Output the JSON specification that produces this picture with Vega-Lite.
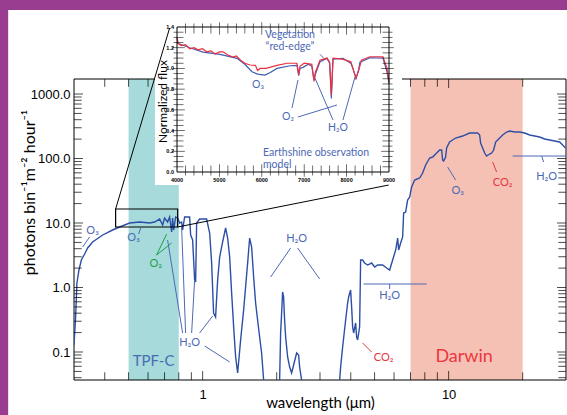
{
  "$schema": "https://vega.github.io/schema/vega-lite/v6.json",
  "width": 492,
  "height": 301,
  "autosize": {"type": "none"},
  "padding": {"left": 74, "top": 79, "right": 1, "bottom": 35},
  "background": "white",
  "config": {
    "view": {"stroke": null},
    "axis": {"grid": false, "domain": false, "ticks": false, "labelColor": "black", "titleColor": "black", "zindex": 1, "labelOverlap": false}
  },
  "datasets": {
    "border": [
      {"w1": 0.01, "w2": 0.162, "f1": 0.00001, "f2": 100000000},
      {"w1": 0.01, "w2": 1000, "f1": 20050, "f2": 100000000}
    ],
    "bands": [
      {"mission": "TPF-C", "start": 0.5, "end": 0.8},
      {"mission": "Darwin", "start": 7, "end": 20}
    ],
    "bandLabels": [
      {"mission": "TPF-C", "wavelength": 0.632, "flux": 0.0725},
      {"mission": "Darwin", "wavelength": 11.56, "flux": 0.0837}
    ],
    "frame": [{"w1": 0.3, "w2": 30, "f1": 0.0368, "f2": 1710}],
    "xTicks": [
      {"wavelength": 0.4, "kind": "minor"}, {"wavelength": 0.5, "kind": "minor"}, {"wavelength": 0.6, "kind": "minor"},
      {"wavelength": 0.7, "kind": "minor"}, {"wavelength": 0.8, "kind": "minor"}, {"wavelength": 0.9, "kind": "minor"},
      {"wavelength": 1, "kind": "major"}, {"wavelength": 2, "kind": "minor"}, {"wavelength": 3, "kind": "minor"},
      {"wavelength": 4, "kind": "minor"}, {"wavelength": 5, "kind": "minor"}, {"wavelength": 6, "kind": "minor"},
      {"wavelength": 7, "kind": "minor"}, {"wavelength": 8, "kind": "minor"}, {"wavelength": 9, "kind": "minor"},
      {"wavelength": 10, "kind": "major"}, {"wavelength": 20, "kind": "minor"}
    ],
    "yTicks": [
      {"flux": 0.04, "kind": "minor"}, {"flux": 0.05, "kind": "minor"}, {"flux": 0.06, "kind": "minor"}, {"flux": 0.07, "kind": "minor"},
      {"flux": 0.08, "kind": "minor"}, {"flux": 0.09, "kind": "minor"}, {"flux": 0.1, "kind": "major"},
      {"flux": 0.2, "kind": "minor"}, {"flux": 0.3, "kind": "minor"}, {"flux": 0.4, "kind": "minor"}, {"flux": 0.5, "kind": "minor"},
      {"flux": 0.6, "kind": "minor"}, {"flux": 0.7, "kind": "minor"}, {"flux": 0.8, "kind": "minor"}, {"flux": 0.9, "kind": "minor"},
      {"flux": 1, "kind": "major"},
      {"flux": 2, "kind": "minor"}, {"flux": 3, "kind": "minor"}, {"flux": 4, "kind": "minor"}, {"flux": 5, "kind": "minor"},
      {"flux": 6, "kind": "minor"}, {"flux": 7, "kind": "minor"}, {"flux": 8, "kind": "minor"}, {"flux": 9, "kind": "minor"},
      {"flux": 10, "kind": "major"},
      {"flux": 20, "kind": "minor"}, {"flux": 30, "kind": "minor"}, {"flux": 40, "kind": "minor"}, {"flux": 50, "kind": "minor"},
      {"flux": 60, "kind": "minor"}, {"flux": 70, "kind": "minor"}, {"flux": 80, "kind": "minor"}, {"flux": 90, "kind": "minor"},
      {"flux": 100, "kind": "major"},
      {"flux": 200, "kind": "minor"}, {"flux": 300, "kind": "minor"}, {"flux": 400, "kind": "minor"}, {"flux": 500, "kind": "minor"},
      {"flux": 600, "kind": "minor"}, {"flux": 700, "kind": "minor"}, {"flux": 800, "kind": "minor"}, {"flux": 900, "kind": "minor"},
      {"flux": 1000, "kind": "major"}
    ],
    "spectrum": [
      {"wavelength": 0.3, "flux": 0.128}, {"wavelength": 0.3046, "flux": 0.349}, {"wavelength": 0.3083, "flux": 1.174},
      {"wavelength": 0.3142, "flux": 1.867}, {"wavelength": 0.3213, "flux": 2.669}, {"wavelength": 0.3314, "flux": 3.307},
      {"wavelength": 0.3408, "flux": 4.1}, {"wavelength": 0.3571, "flux": 5.08}, {"wavelength": 0.3923, "flux": 6.52},
      {"wavelength": 0.4306, "flux": 7.79}, {"wavelength": 0.46, "flux": 8.67}, {"wavelength": 0.505, "flux": 10.0},
      {"wavelength": 0.5546, "flux": 10.36}, {"wavelength": 0.609, "flux": 10.0}, {"wavelength": 0.6378, "flux": 10.36},
      {"wavelength": 0.6686, "flux": 11.53}, {"wavelength": 0.6877, "flux": 9.31}, {"wavelength": 0.7006, "flux": 11.95},
      {"wavelength": 0.7205, "flux": 10.36}, {"wavelength": 0.7342, "flux": 12.39}, {"wavelength": 0.7482, "flux": 7.25},
      {"wavelength": 0.7551, "flux": 11.95}, {"wavelength": 0.7623, "flux": 7.79}, {"wavelength": 0.7767, "flux": 12.39},
      {"wavelength": 0.7915, "flux": 11.95}, {"wavelength": 0.8065, "flux": 10.0}, {"wavelength": 0.8215, "flux": 10.36},
      {"wavelength": 0.8292, "flux": 7.79}, {"wavelength": 0.8449, "flux": 12.39}, {"wavelength": 0.8855, "flux": 12.39},
      {"wavelength": 0.8938, "flux": 6.52}, {"wavelength": 0.9106, "flux": 5.45}, {"wavelength": 0.9279, "flux": 1.307},
      {"wavelength": 0.9365, "flux": 1.217}, {"wavelength": 0.9454, "flux": 10.0}, {"wavelength": 0.9723, "flux": 11.53},
      {"wavelength": 1.038, "flux": 11.53}, {"wavelength": 1.068, "flux": 7.0}, {"wavelength": 1.088, "flux": 2.398},
      {"wavelength": 1.108, "flux": 0.4024}, {"wavelength": 1.129, "flux": 0.3488}, {"wavelength": 1.151, "flux": 1.307},
      {"wavelength": 1.173, "flux": 2.97}, {"wavelength": 1.206, "flux": 5.08}, {"wavelength": 1.24, "flux": 8.37},
      {"wavelength": 1.264, "flux": 5.85}, {"wavelength": 1.288, "flux": 2.97}, {"wavelength": 1.312, "flux": 0.822},
      {"wavelength": 1.337, "flux": 0.2441}, {"wavelength": 1.362, "flux": 0.0837}, {"wavelength": 1.388, "flux": 0.0472},
      {"wavelength": 1.427, "flux": 0.1535}, {"wavelength": 1.468, "flux": 0.4478}, {"wavelength": 1.495, "flux": 1.018},
      {"wavelength": 1.524, "flux": 2.398}, {"wavelength": 1.553, "flux": 5.85}, {"wavelength": 1.582, "flux": 4.25},
      {"wavelength": 1.612, "flux": 1.455}, {"wavelength": 1.642, "flux": 0.575}, {"wavelength": 1.673, "flux": 0.3133},
      {"wavelength": 1.705, "flux": 0.1709}, {"wavelength": 1.737, "flux": 0.0965}, {"wavelength": 1.77, "flux": 0.0368},
      {"wavelength": 1.803, "flux": 0.01}, {"wavelength": 2.02, "flux": 0.01}, {"wavelength": 2.056, "flux": 0.0368},
      {"wavelength": 2.075, "flux": 0.197}, {"wavelength": 2.095, "flux": 0.4024}, {"wavelength": 2.114, "flux": 0.852},
      {"wavelength": 2.134, "flux": 0.7125}, {"wavelength": 2.154, "flux": 0.3133}, {"wavelength": 2.175, "flux": 0.1709},
      {"wavelength": 2.216, "flux": 0.0837}, {"wavelength": 2.258, "flux": 0.0585}, {"wavelength": 2.3, "flux": 0.0472},
      {"wavelength": 2.344, "flux": 0.0629}, {"wavelength": 2.411, "flux": 0.0965}, {"wavelength": 2.456, "flux": 0.0898},
      {"wavelength": 2.479, "flux": 0.0585}, {"wavelength": 2.526, "flux": 0.0368}, {"wavelength": 2.574, "flux": 0.01},
      {"wavelength": 3.539, "flux": 0.01}, {"wavelength": 3.606, "flux": 0.0368}, {"wavelength": 3.639, "flux": 0.0585},
      {"wavelength": 3.708, "flux": 0.1196}, {"wavelength": 3.814, "flux": 0.3133}, {"wavelength": 3.886, "flux": 0.575},
      {"wavelength": 3.922, "flux": 0.7125}, {"wavelength": 3.996, "flux": 0.9147}, {"wavelength": 4.034, "flux": 0.4984},
      {"wavelength": 4.072, "flux": 0.2441}, {"wavelength": 4.11, "flux": 0.197}, {"wavelength": 4.188, "flux": 0.2815},
      {"wavelength": 4.227, "flux": 0.1709}, {"wavelength": 4.267, "flux": 0.1535}, {"wavelength": 4.347, "flux": 0.2441},
      {"wavelength": 4.388, "flux": 2.669}, {"wavelength": 4.471, "flux": 2.669}, {"wavelength": 4.555, "flux": 2.398},
      {"wavelength": 4.685, "flux": 2.233}, {"wavelength": 4.864, "flux": 2.398}, {"wavelength": 5.003, "flux": 2.078},
      {"wavelength": 5.145, "flux": 2.233}, {"wavelength": 5.392, "flux": 2.233}, {"wavelength": 5.598, "flux": 2.006},
      {"wavelength": 5.757, "flux": 1.867}, {"wavelength": 5.922, "flux": 2.669}, {"wavelength": 6.091, "flux": 3.815},
      {"wavelength": 6.206, "flux": 5.85}, {"wavelength": 6.264, "flux": 3.815}, {"wavelength": 6.382, "flux": 4.897},
      {"wavelength": 6.502, "flux": 6.07}, {"wavelength": 6.564, "flux": 14.29}, {"wavelength": 6.687, "flux": 14.81},
      {"wavelength": 6.813, "flux": 22.73}, {"wavelength": 6.942, "flux": 25.3}, {"wavelength": 7.073, "flux": 36.15},
      {"wavelength": 7.274, "flux": 46.42}, {"wavelength": 7.624, "flux": 49.86}, {"wavelength": 7.841, "flux": 59.61},
      {"wavelength": 8.064, "flux": 79.29}, {"wavelength": 8.373, "flux": 101.8}, {"wavelength": 8.61, "flux": 105.5},
      {"wavelength": 8.94, "flux": 121.7}, {"wavelength": 9.193, "flux": 135.5}, {"wavelength": 9.366, "flux": 135.5},
      {"wavelength": 9.454, "flux": 94.8}, {"wavelength": 9.543, "flux": 91.5}, {"wavelength": 9.723, "flux": 105.5},
      {"wavelength": 9.815, "flux": 145.5}, {"wavelength": 10.09, "flux": 180.3}, {"wavelength": 10.68, "flux": 207.9},
      {"wavelength": 11.4, "flux": 223.3}, {"wavelength": 12.17, "flux": 248.6}, {"wavelength": 13.12, "flux": 248.6},
      {"wavelength": 13.37, "flux": 231.4}, {"wavelength": 13.49, "flux": 173.9}, {"wavelength": 13.75, "flux": 145.5},
      {"wavelength": 14.01, "flux": 121.7}, {"wavelength": 14.27, "flux": 109.3}, {"wavelength": 14.68, "flux": 117.4},
      {"wavelength": 14.96, "flux": 121.7}, {"wavelength": 15.24, "flux": 135.5}, {"wavelength": 15.53, "flux": 180.3},
      {"wavelength": 16.12, "flux": 207.9}, {"wavelength": 16.58, "flux": 231.4}, {"wavelength": 17.21, "flux": 257.6},
      {"wavelength": 17.7, "flux": 267.0}, {"wavelength": 18.55, "flux": 257.6}, {"wavelength": 19.44, "flux": 257.6},
      {"wavelength": 20.37, "flux": 248.6}, {"wavelength": 21.35, "flux": 231.4}, {"wavelength": 22.37, "flux": 223.3},
      {"wavelength": 23.44, "flux": 215.4}, {"wavelength": 24.56, "flux": 200.6}, {"wavelength": 25.74, "flux": 193.6},
      {"wavelength": 26.97, "flux": 186.8}, {"wavelength": 28.26, "flux": 180.3}, {"wavelength": 29.07, "flux": 161.9},
      {"wavelength": 29.9, "flux": 145.5}
    ],
    "pointers": [
      {"species": "H2O", "w1": 0.7205, "f1": 5.45, "w2": 0.8292, "f2": 0.197},
      {"species": "H2O", "w1": 0.8215, "f1": 8.67, "w2": 0.8527, "f2": 0.197},
      {"species": "H2O", "w1": 0.9279, "f1": 1.307, "w2": 0.9022, "f2": 0.197},
      {"species": "H2O", "w1": 1.098, "f1": 0.3614, "w2": 0.9723, "f2": 0.197},
      {"species": "H2O", "w1": 1.288, "f1": 0.07, "w2": 1.019, "f2": 0.1239},
      {"species": "O3", "w1": 0.3252, "f1": 4.246, "w2": 0.3472, "f2": 6.066},
      {"species": "O3", "w1": 0.56, "f1": 8.37, "w2": 0.5494, "f2": 6.75},
      {"species": "O2", "w1": 0.65, "f1": 3.19, "w2": 0.714, "f2": 6.75},
      {"species": "O2", "w1": 0.65, "f1": 3.19, "w2": 0.7482, "f2": 4.9},
      {"species": "H2O", "w1": 1.89, "f1": 1.455, "w2": 2.279, "f2": 4.1},
      {"species": "H2O", "w1": 2.433, "f1": 4.1, "w2": 2.99, "f2": 1.354},
      {"species": "H2O", "w1": 4.512, "f1": 1.133, "w2": 8.14, "f2": 1.133},
      {"species": "H2O", "w1": 5.757, "f1": 1.133, "w2": 5.757, "f2": 0.948},
      {"species": "CO2", "w1": 4.471, "f1": 0.1379, "w2": 4.864, "f2": 0.1},
      {"species": "O3", "w1": 9.91, "f1": 73.8, "w2": 10.68, "f2": 46.4},
      {"species": "CO2", "w1": 15.1, "f1": 88.3, "w2": 15.67, "f2": 61.8},
      {"species": "H2O", "w1": 18.2, "f1": 109.3, "w2": 30, "f2": 109.3},
      {"species": "H2O", "w1": 23.9, "f1": 109.3, "w2": 24.33, "f2": 88.3}
    ],
    "notes": [
      {"species": "O3", "text": "O₃", "wavelength": 0.357, "flux": 7.52},
      {"species": "O3", "text": "O₃", "wavelength": 0.524, "flux": 5.85},
      {"species": "O2", "text": "O₂", "wavelength": 0.644, "flux": 2.31},
      {"species": "H2O", "text": "H₂O", "wavelength": 0.885, "flux": 0.138},
      {"species": "H2O", "text": "H₂O", "wavelength": 2.411, "flux": 5.65},
      {"species": "H2O", "text": "H₂O", "wavelength": 5.757, "flux": 0.738},
      {"species": "CO2", "text": "CO₂", "wavelength": 5.44, "flux": 0.0807},
      {"species": "O3", "text": "O₃", "wavelength": 10.88, "flux": 31.3},
      {"species": "CO2", "text": "CO₂", "wavelength": 16.58, "flux": 41.7},
      {"species": "H2O", "text": "H₂O", "wavelength": 25.02, "flux": 51.7}
    ],
    "zoomBox": [{"w1": 0.4429, "w2": 0.7915, "f1": 8.67, "f2": 16.49}],
    "connectors": [
      {"w1": 0.4429, "f1": 16.49, "w2": 0.7342, "f2": 10551},
      {"w1": 0.7915, "f1": 8.67, "w2": 5.703, "f2": 38.8}
    ],
    "insetPanel": [{"a1": 3481, "a2": 9306, "n1": -0.125, "n2": 1.515}],
    "insetFrame": [{"a1": 4000, "a2": 9000, "n1": 0, "n2": 1.4}],
    "insetXTicks": [
      {"angstrom": 4200, "kind": "insetMinor"}, {"angstrom": 4400, "kind": "insetMinor"}, {"angstrom": 4600, "kind": "insetMinor"}, {"angstrom": 4800, "kind": "insetMinor"},
      {"angstrom": 5000, "kind": "insetMajor"}, {"angstrom": 5200, "kind": "insetMinor"}, {"angstrom": 5400, "kind": "insetMinor"}, {"angstrom": 5600, "kind": "insetMinor"},
      {"angstrom": 5800, "kind": "insetMinor"}, {"angstrom": 6000, "kind": "insetMajor"}, {"angstrom": 6200, "kind": "insetMinor"}, {"angstrom": 6400, "kind": "insetMinor"},
      {"angstrom": 6600, "kind": "insetMinor"}, {"angstrom": 6800, "kind": "insetMinor"}, {"angstrom": 7000, "kind": "insetMajor"}, {"angstrom": 7200, "kind": "insetMinor"},
      {"angstrom": 7400, "kind": "insetMinor"}, {"angstrom": 7600, "kind": "insetMinor"}, {"angstrom": 7800, "kind": "insetMinor"}, {"angstrom": 8000, "kind": "insetMajor"},
      {"angstrom": 8200, "kind": "insetMinor"}, {"angstrom": 8400, "kind": "insetMinor"}, {"angstrom": 8600, "kind": "insetMinor"}, {"angstrom": 8800, "kind": "insetMinor"}
    ],
    "insetYTicks": [
      {"flux": 0.05, "kind": "insetMinor"}, {"flux": 0.1, "kind": "insetMinor"}, {"flux": 0.15, "kind": "insetMinor"}, {"flux": 0.2, "kind": "insetMajor"},
      {"flux": 0.25, "kind": "insetMinor"}, {"flux": 0.3, "kind": "insetMinor"}, {"flux": 0.35, "kind": "insetMinor"}, {"flux": 0.4, "kind": "insetMajor"},
      {"flux": 0.45, "kind": "insetMinor"}, {"flux": 0.5, "kind": "insetMinor"}, {"flux": 0.55, "kind": "insetMinor"}, {"flux": 0.6, "kind": "insetMajor"},
      {"flux": 0.65, "kind": "insetMinor"}, {"flux": 0.7, "kind": "insetMinor"}, {"flux": 0.75, "kind": "insetMinor"}, {"flux": 0.8, "kind": "insetMajor"},
      {"flux": 0.85, "kind": "insetMinor"}, {"flux": 0.9, "kind": "insetMinor"}, {"flux": 0.95, "kind": "insetMinor"}, {"flux": 1.0, "kind": "insetMajor"},
      {"flux": 1.05, "kind": "insetMinor"}, {"flux": 1.1, "kind": "insetMinor"}, {"flux": 1.15, "kind": "insetMinor"}, {"flux": 1.2, "kind": "insetMajor"},
      {"flux": 1.25, "kind": "insetMinor"}, {"flux": 1.3, "kind": "insetMinor"}, {"flux": 1.35, "kind": "insetMinor"}
    ],
    "insetXLabels": [{"angstrom": 4000}, {"angstrom": 5000}, {"angstrom": 6000}, {"angstrom": 7000}, {"angstrom": 8000}, {"angstrom": 9000}],
    "insetYLabels": [{"flux": 0}, {"flux": 0.2}, {"flux": 0.4}, {"flux": 0.6}, {"flux": 0.8}, {"flux": 1.0}, {"flux": 1.2}, {"flux": 1.4}],
    "insetTitle": [{"text": "Normalized flux", "angstrom": 3680, "flux": 0.68}],
    "earthshine": [
      {"series": "model", "angstrom": 4000, "flux": 1.245}, {"series": "model", "angstrom": 4300, "flux": 1.2},
      {"series": "model", "angstrom": 4613, "flux": 1.158}, {"series": "model", "angstrom": 5014, "flux": 1.136},
      {"series": "model", "angstrom": 5415, "flux": 1.097}, {"series": "model", "angstrom": 5600, "flux": 1.04},
      {"series": "model", "angstrom": 5769, "flux": 0.968}, {"series": "model", "angstrom": 5900, "flux": 0.945},
      {"series": "model", "angstrom": 6075, "flux": 0.936}, {"series": "model", "angstrom": 6200, "flux": 0.96},
      {"series": "model", "angstrom": 6358, "flux": 1.0}, {"series": "model", "angstrom": 6665, "flux": 1.026},
      {"series": "model", "angstrom": 6830, "flux": 1.03}, {"series": "model", "angstrom": 6870, "flux": 0.93},
      {"series": "model", "angstrom": 6900, "flux": 1.0}, {"series": "model", "angstrom": 6971, "flux": 1.01},
      {"series": "model", "angstrom": 7100, "flux": 1.04}, {"series": "model", "angstrom": 7180, "flux": 1.02},
      {"series": "model", "angstrom": 7231, "flux": 0.888}, {"series": "model", "angstrom": 7270, "flux": 0.95},
      {"series": "model", "angstrom": 7372, "flux": 1.065}, {"series": "model", "angstrom": 7537, "flux": 1.097},
      {"series": "model", "angstrom": 7600, "flux": 1.05}, {"series": "model", "angstrom": 7640, "flux": 0.711},
      {"series": "model", "angstrom": 7680, "flux": 1.09}, {"series": "model", "angstrom": 7914, "flux": 1.097},
      {"series": "model", "angstrom": 8100, "flux": 1.05}, {"series": "model", "angstrom": 8150, "flux": 1.0},
      {"series": "model", "angstrom": 8221, "flux": 0.904}, {"series": "model", "angstrom": 8280, "flux": 0.98},
      {"series": "model", "angstrom": 8315, "flux": 1.06}, {"series": "model", "angstrom": 8551, "flux": 1.103},
      {"series": "model", "angstrom": 8858, "flux": 1.1}, {"series": "model", "angstrom": 8952, "flux": 0.968},
      {"series": "model", "angstrom": 9000, "flux": 0.856},
      {"series": "observation", "angstrom": 4000, "flux": 1.3}, {"series": "observation", "angstrom": 4030, "flux": 1.24},
      {"series": "observation", "angstrom": 4100, "flux": 1.22}, {"series": "observation", "angstrom": 4200, "flux": 1.23},
      {"series": "observation", "angstrom": 4300, "flux": 1.19}, {"series": "observation", "angstrom": 4400, "flux": 1.2},
      {"series": "observation", "angstrom": 4500, "flux": 1.18}, {"series": "observation", "angstrom": 4600, "flux": 1.19},
      {"series": "observation", "angstrom": 4700, "flux": 1.16}, {"series": "observation", "angstrom": 4800, "flux": 1.17},
      {"series": "observation", "angstrom": 4900, "flux": 1.14}, {"series": "observation", "angstrom": 5000, "flux": 1.16},
      {"series": "observation", "angstrom": 5085, "flux": 1.16}, {"series": "observation", "angstrom": 5200, "flux": 1.13},
      {"series": "observation", "angstrom": 5320, "flux": 1.11}, {"series": "observation", "angstrom": 5400, "flux": 1.12},
      {"series": "observation", "angstrom": 5500, "flux": 1.08}, {"series": "observation", "angstrom": 5600, "flux": 1.05},
      {"series": "observation", "angstrom": 5721, "flux": 1.033}, {"series": "observation", "angstrom": 5850, "flux": 1.03},
      {"series": "observation", "angstrom": 5900, "flux": 0.98}, {"series": "observation", "angstrom": 5960, "flux": 1.0},
      {"series": "observation", "angstrom": 6100, "flux": 1.0}, {"series": "observation", "angstrom": 6358, "flux": 1.03},
      {"series": "observation", "angstrom": 6600, "flux": 1.05}, {"series": "observation", "angstrom": 6830, "flux": 1.05},
      {"series": "observation", "angstrom": 6870, "flux": 0.94}, {"series": "observation", "angstrom": 6900, "flux": 1.02},
      {"series": "observation", "angstrom": 7000, "flux": 1.05}, {"series": "observation", "angstrom": 7180, "flux": 1.04},
      {"series": "observation", "angstrom": 7231, "flux": 0.874}, {"series": "observation", "angstrom": 7260, "flux": 0.96},
      {"series": "observation", "angstrom": 7372, "flux": 1.08}, {"series": "observation", "angstrom": 7537, "flux": 1.1},
      {"series": "observation", "angstrom": 7600, "flux": 1.06}, {"series": "observation", "angstrom": 7640, "flux": 0.743},
      {"series": "observation", "angstrom": 7680, "flux": 1.1}, {"series": "observation", "angstrom": 7900, "flux": 1.09},
      {"series": "observation", "angstrom": 8100, "flux": 1.065}, {"series": "observation", "angstrom": 8221, "flux": 0.904},
      {"series": "observation", "angstrom": 8300, "flux": 1.0}, {"series": "observation", "angstrom": 8350, "flux": 1.08},
      {"series": "observation", "angstrom": 8551, "flux": 1.113}, {"series": "observation", "angstrom": 8858, "flux": 1.113},
      {"series": "observation", "angstrom": 8952, "flux": 1.0}, {"series": "observation", "angstrom": 9000, "flux": 0.874}
    ],
    "insetNotes": [
      {"text": "Vegetation", "angstrom": 6665, "flux": 1.322},
      {"text": "“red-edge”", "angstrom": 6665, "flux": 1.207},
      {"text": "O₃", "angstrom": 5910, "flux": 0.84},
      {"text": "O₂", "angstrom": 6617, "flux": 0.531},
      {"text": "H₂O", "angstrom": 7797, "flux": 0.425}
    ],
    "insetPointers": [
      {"a1": 7372, "n1": 1.136, "a2": 7466, "n2": 1.097},
      {"a1": 6712, "n1": 0.618, "a2": 6853, "n2": 0.888},
      {"a1": 6853, "n1": 0.531, "a2": 7773, "n2": 0.647},
      {"a1": 7254, "n1": 0.907, "a2": 7679, "n2": 0.502},
      {"a1": 8197, "n1": 0.917, "a2": 7914, "n2": 0.502}
    ],
    "insetLegend": [
      {"series": "observation", "text": "Earthshine observation", "angstrom": 6028, "flux": 0.183},
      {"series": "model", "text": "model", "angstrom": 6028, "flux": 0.065}
    ]
  },
  "resolve": {"scale": {"x": "independent", "y": "independent"}, "axis": {"x": "independent", "y": "independent"}},
  "layer": [
    {
      "data": {"name": "bands"},
      "mark": {"type": "rect"},
      "encoding": {
        "x": {"field": "start", "type": "quantitative", "scale": {"type": "log", "domain": [0.3, 30], "nice": false}, "axis": null},
        "x2": {"field": "end"},
        "fill": {"field": "mission", "type": "nominal", "scale": {"domain": ["TPF-C", "Darwin"], "range": ["#a6dadb", "#f6c1b5"]}, "legend": null}
      }
    },
    {
      "data": {"name": "frame"},
      "mark": {"type": "rect", "filled": false, "color": "black", "strokeWidth": 1},
      "encoding": {
        "x": {"field": "w1", "type": "quantitative", "scale": {"type": "log", "domain": [0.3, 30], "nice": false}, "axis": null},
        "x2": {"field": "w2"},
        "y": {"field": "f1", "type": "quantitative", "scale": {"type": "log", "domain": [0.0368, 1710], "nice": false}, "axis": null},
        "y2": {"field": "f2"}
      }
    },
    {
      "data": {"name": "spectrum"},
      "mark": {"type": "line", "clip": true, "color": "#2d4ea6", "strokeWidth": 1.4},
      "encoding": {
        "x": {
          "field": "wavelength", "type": "quantitative",
          "scale": {"type": "log", "domain": [0.3, 30], "nice": false},
          "axis": {
            "orient": "bottom",
            "values": [1, 10],
            "format": "d",
            "labelPadding": 8,
            "labelFont": "Liberation Sans", "labelFontSize": 13,
            "title": "wavelength (μm)", "titleFont": "Lato", "titleFontSize": 15, "titleFontWeight": "normal",
            "titleBaseline": "alphabetic", "titlePadding": 6
          }
        },
        "y": {
          "field": "flux", "type": "quantitative",
          "scale": {"type": "log", "domain": [0.0368, 1710], "nice": false},
          "axis": {
            "orient": "left",
            "values": [0.1, 1, 10, 100, 1000],
            "format": ".1f",
            "labelPadding": 4,
            "labelFont": "Liberation Sans", "labelFontSize": 13,
            "title": "photons bin⁻¹m⁻² hour⁻¹", "titleFont": "Lato", "titleFontSize": 16, "titleFontWeight": "normal",
            "titleBaseline": "top", "titlePadding": 9, "titleY": 113
          }
        }
      }
    },
    {
      "data": {"name": "xTicks"},
      "mark": {"type": "tick", "orient": "vertical", "clip": true, "color": "black", "thickness": 1},
      "encoding": {
        "x": {"field": "wavelength", "type": "quantitative", "scale": {"type": "log", "domain": [0.3, 30], "nice": false}, "axis": null},
        "y": {"datum": 0.0368, "type": "quantitative", "scale": {"type": "log", "domain": [0.0368, 1710], "nice": false}, "axis": null},
        "size": {"field": "kind", "type": "nominal", "scale": {"domain": ["major", "minor", "insetMajor", "insetMinor"], "range": [18, 10, 4, 2.5]}, "legend": null}
      }
    },
    {
      "data": {"name": "xTicks"},
      "mark": {"type": "tick", "orient": "vertical", "clip": true, "color": "black", "thickness": 1},
      "encoding": {
        "x": {"field": "wavelength", "type": "quantitative", "scale": {"type": "log", "domain": [0.3, 30], "nice": false}, "axis": null},
        "y": {"datum": 1710, "type": "quantitative", "scale": {"type": "log", "domain": [0.0368, 1710], "nice": false}, "axis": null},
        "size": {"field": "kind", "type": "nominal", "scale": {"domain": ["major", "minor", "insetMajor", "insetMinor"], "range": [18, 10, 4, 2.5]}, "legend": null}
      }
    },
    {
      "data": {"name": "yTicks"},
      "mark": {"type": "tick", "orient": "horizontal", "clip": true, "color": "black", "thickness": 1},
      "encoding": {
        "x": {"datum": 0.3, "type": "quantitative", "scale": {"type": "log", "domain": [0.3, 30], "nice": false}, "axis": null},
        "y": {"field": "flux", "type": "quantitative", "scale": {"type": "log", "domain": [0.0368, 1710], "nice": false}, "axis": null},
        "size": {"field": "kind", "type": "nominal", "scale": {"domain": ["major", "minor", "insetMajor", "insetMinor"], "range": [18, 10, 4, 2.5]}, "legend": null}
      }
    },
    {
      "data": {"name": "yTicks"},
      "mark": {"type": "tick", "orient": "horizontal", "clip": true, "color": "black", "thickness": 1},
      "encoding": {
        "x": {"datum": 30, "type": "quantitative", "scale": {"type": "log", "domain": [0.3, 30], "nice": false}, "axis": null},
        "y": {"field": "flux", "type": "quantitative", "scale": {"type": "log", "domain": [0.0368, 1710], "nice": false}, "axis": null},
        "size": {"field": "kind", "type": "nominal", "scale": {"domain": ["major", "minor", "insetMajor", "insetMinor"], "range": [18, 10, 4, 2.5]}, "legend": null}
      }
    },
    {
      "data": {"name": "pointers"},
      "mark": {"type": "rule", "strokeWidth": 1},
      "encoding": {
        "x": {"field": "w1", "type": "quantitative", "scale": {"type": "log", "domain": [0.3, 30], "nice": false}, "axis": null},
        "x2": {"field": "w2"},
        "y": {"field": "f1", "type": "quantitative", "scale": {"type": "log", "domain": [0.0368, 1710], "nice": false}, "axis": null},
        "y2": {"field": "f2"},
        "color": {"field": "species", "type": "nominal", "scale": {"domain": ["H2O", "O3", "O2", "CO2", "TPF-C", "Darwin"], "range": ["#4d69b6", "#4d69b6", "#1fa04c", "#e8343c", "#4a6cb4", "#ee3640"]}, "legend": null}
      }
    },
    {
      "data": {"name": "notes"},
      "mark": {"type": "text", "font": "Lato", "fontSize": 11, "align": "center", "baseline": "middle"},
      "encoding": {
        "x": {"field": "wavelength", "type": "quantitative", "scale": {"type": "log", "domain": [0.3, 30], "nice": false}, "axis": null},
        "y": {"field": "flux", "type": "quantitative", "scale": {"type": "log", "domain": [0.0368, 1710], "nice": false}, "axis": null},
        "text": {"field": "text"},
        "color": {"field": "species", "type": "nominal", "scale": {"domain": ["H2O", "O3", "O2", "CO2", "TPF-C", "Darwin"], "range": ["#4d69b6", "#4d69b6", "#1fa04c", "#e8343c", "#4a6cb4", "#ee3640"]}, "legend": null}
      }
    },
    {
      "data": {"name": "bandLabels"},
      "transform": [{"filter": "datum.mission == 'TPF-C'"}],
      "mark": {"type": "text", "font": "Lato", "fontSize": 15, "align": "center", "baseline": "middle"},
      "encoding": {
        "x": {"field": "wavelength", "type": "quantitative", "scale": {"type": "log", "domain": [0.3, 30], "nice": false}, "axis": null},
        "y": {"field": "flux", "type": "quantitative", "scale": {"type": "log", "domain": [0.0368, 1710], "nice": false}, "axis": null},
        "text": {"field": "mission"},
        "color": {"field": "mission", "type": "nominal", "scale": {"domain": ["H2O", "O3", "O2", "CO2", "TPF-C", "Darwin"], "range": ["#4d69b6", "#4d69b6", "#1fa04c", "#e8343c", "#4a6cb4", "#ee3640"]}, "legend": null}
      }
    },
    {
      "data": {"name": "bandLabels"},
      "transform": [{"filter": "datum.mission == 'Darwin'"}],
      "mark": {"type": "text", "font": "Lato", "fontSize": 18, "align": "center", "baseline": "middle"},
      "encoding": {
        "x": {"field": "wavelength", "type": "quantitative", "scale": {"type": "log", "domain": [0.3, 30], "nice": false}, "axis": null},
        "y": {"field": "flux", "type": "quantitative", "scale": {"type": "log", "domain": [0.0368, 1710], "nice": false}, "axis": null},
        "text": {"field": "mission"},
        "color": {"field": "mission", "type": "nominal", "scale": {"domain": ["H2O", "O3", "O2", "CO2", "TPF-C", "Darwin"], "range": ["#4d69b6", "#4d69b6", "#1fa04c", "#e8343c", "#4a6cb4", "#ee3640"]}, "legend": null}
      }
    },
    {
      "data": {"name": "border"},
      "mark": {"type": "rect", "color": "#993d91"},
      "encoding": {
        "x": {"field": "w1", "type": "quantitative", "scale": {"type": "log", "domain": [0.3, 30], "nice": false}, "axis": null},
        "x2": {"field": "w2"},
        "y": {"field": "f1", "type": "quantitative", "scale": {"type": "log", "domain": [0.0368, 1710], "nice": false}, "axis": null},
        "y2": {"field": "f2"}
      }
    },
    {
      "data": {"name": "insetPanel"},
      "mark": {"type": "rect", "color": "white"},
      "encoding": {
        "x": {"field": "a1", "type": "quantitative", "scale": {"domain": [4000, 9000], "range": [103, 315], "nice": false, "zero": false}, "axis": null},
        "x2": {"field": "a2"},
        "y": {"field": "n1", "type": "quantitative", "scale": {"domain": [0, 1.4], "range": [93, -52], "nice": false, "zero": false}, "axis": null},
        "y2": {"field": "n2"}
      }
    },
    {
      "data": {"name": "earthshine"},
      "mark": {"type": "line", "strokeWidth": 1.2},
      "encoding": {
        "x": {"field": "angstrom", "type": "quantitative", "scale": {"domain": [4000, 9000], "range": [103, 315], "nice": false, "zero": false}, "axis": null},
        "y": {"field": "flux", "type": "quantitative", "scale": {"domain": [0, 1.4], "range": [93, -52], "nice": false, "zero": false}, "axis": null},
        "stroke": {"field": "series", "type": "nominal", "scale": {"domain": ["model", "observation"], "range": ["#3e5db0", "#ee2f3f"]}, "legend": null}
      }
    },
    {
      "data": {"name": "insetFrame"},
      "mark": {"type": "rect", "filled": false, "color": "black", "strokeWidth": 1},
      "encoding": {
        "x": {"field": "a1", "type": "quantitative", "scale": {"domain": [4000, 9000], "range": [103, 315], "nice": false, "zero": false}, "axis": null},
        "x2": {"field": "a2"},
        "y": {"field": "n1", "type": "quantitative", "scale": {"domain": [0, 1.4], "range": [93, -52], "nice": false, "zero": false}, "axis": null},
        "y2": {"field": "n2"}
      }
    },
    {
      "data": {"name": "insetXTicks"},
      "mark": {"type": "tick", "orient": "vertical", "color": "black", "thickness": 0.8, "yOffset": -1.5},
      "encoding": {
        "x": {"field": "angstrom", "type": "quantitative", "scale": {"domain": [4000, 9000], "range": [103, 315], "nice": false, "zero": false}, "axis": null},
        "y": {"datum": 0, "type": "quantitative", "scale": {"domain": [0, 1.4], "range": [93, -52], "nice": false, "zero": false}, "axis": null},
        "size": {"field": "kind", "type": "nominal", "scale": {"domain": ["major", "minor", "insetMajor", "insetMinor"], "range": [18, 10, 4, 2.5]}, "legend": null}
      }
    },
    {
      "data": {"name": "insetXTicks"},
      "mark": {"type": "tick", "orient": "vertical", "color": "black", "thickness": 0.8, "yOffset": 1.5},
      "encoding": {
        "x": {"field": "angstrom", "type": "quantitative", "scale": {"domain": [4000, 9000], "range": [103, 315], "nice": false, "zero": false}, "axis": null},
        "y": {"datum": 1.4, "type": "quantitative", "scale": {"domain": [0, 1.4], "range": [93, -52], "nice": false, "zero": false}, "axis": null},
        "size": {"field": "kind", "type": "nominal", "scale": {"domain": ["major", "minor", "insetMajor", "insetMinor"], "range": [18, 10, 4, 2.5]}, "legend": null}
      }
    },
    {
      "data": {"name": "insetYTicks"},
      "mark": {"type": "tick", "orient": "horizontal", "color": "black", "thickness": 0.8, "xOffset": 1.5},
      "encoding": {
        "x": {"datum": 4000, "type": "quantitative", "scale": {"domain": [4000, 9000], "range": [103, 315], "nice": false, "zero": false}, "axis": null},
        "y": {"field": "flux", "type": "quantitative", "scale": {"domain": [0, 1.4], "range": [93, -52], "nice": false, "zero": false}, "axis": null},
        "size": {"field": "kind", "type": "nominal", "scale": {"domain": ["major", "minor", "insetMajor", "insetMinor"], "range": [18, 10, 4, 2.5]}, "legend": null}
      }
    },
    {
      "data": {"name": "insetYTicks"},
      "mark": {"type": "tick", "orient": "horizontal", "color": "black", "thickness": 0.8, "xOffset": -1.5},
      "encoding": {
        "x": {"datum": 9000, "type": "quantitative", "scale": {"domain": [4000, 9000], "range": [103, 315], "nice": false, "zero": false}, "axis": null},
        "y": {"field": "flux", "type": "quantitative", "scale": {"domain": [0, 1.4], "range": [93, -52], "nice": false, "zero": false}, "axis": null},
        "size": {"field": "kind", "type": "nominal", "scale": {"domain": ["major", "minor", "insetMajor", "insetMinor"], "range": [18, 10, 4, 2.5]}, "legend": null}
      }
    },
    {
      "data": {"name": "insetXLabels"},
      "mark": {"type": "text", "font": "Liberation Sans", "fontSize": 5.5, "fontWeight": "bold", "align": "center", "baseline": "middle", "dy": 8, "color": "black"},
      "encoding": {
        "x": {"field": "angstrom", "type": "quantitative", "scale": {"domain": [4000, 9000], "range": [103, 315], "nice": false, "zero": false}, "axis": null},
        "y": {"datum": 0, "type": "quantitative", "scale": {"domain": [0, 1.4], "range": [93, -52], "nice": false, "zero": false}, "axis": null},
        "text": {"field": "angstrom", "type": "quantitative", "format": "d"}
      }
    },
    {
      "data": {"name": "insetYLabels"},
      "mark": {"type": "text", "font": "Liberation Sans", "fontSize": 5.5, "fontWeight": "bold", "align": "right", "baseline": "middle", "dx": -3, "color": "black"},
      "encoding": {
        "x": {"datum": 4000, "type": "quantitative", "scale": {"domain": [4000, 9000], "range": [103, 315], "nice": false, "zero": false}, "axis": null},
        "y": {"field": "flux", "type": "quantitative", "scale": {"domain": [0, 1.4], "range": [93, -52], "nice": false, "zero": false}, "axis": null},
        "text": {"field": "flux", "type": "quantitative", "format": ".1f"}
      }
    },
    {
      "data": {"name": "insetTitle"},
      "mark": {"type": "text", "font": "Lato", "fontSize": 12, "align": "center", "baseline": "middle", "angle": 270, "color": "black"},
      "encoding": {
        "x": {"field": "angstrom", "type": "quantitative", "scale": {"domain": [4000, 9000], "range": [103, 315], "nice": false, "zero": false}, "axis": null},
        "y": {"field": "flux", "type": "quantitative", "scale": {"domain": [0, 1.4], "range": [93, -52], "nice": false, "zero": false}, "axis": null},
        "text": {"field": "text"}
      }
    },
    {
      "data": {"name": "insetPointers"},
      "mark": {"type": "rule", "strokeWidth": 1, "color": "#4d69b6"},
      "encoding": {
        "x": {"field": "a1", "type": "quantitative", "scale": {"domain": [4000, 9000], "range": [103, 315], "nice": false, "zero": false}, "axis": null},
        "x2": {"field": "a2"},
        "y": {"field": "n1", "type": "quantitative", "scale": {"domain": [0, 1.4], "range": [93, -52], "nice": false, "zero": false}, "axis": null},
        "y2": {"field": "n2"}
      }
    },
    {
      "data": {"name": "insetNotes"},
      "mark": {"type": "text", "font": "Lato", "fontSize": 10.5, "align": "center", "baseline": "middle", "color": "#4d69b6"},
      "encoding": {
        "x": {"field": "angstrom", "type": "quantitative", "scale": {"domain": [4000, 9000], "range": [103, 315], "nice": false, "zero": false}, "axis": null},
        "y": {"field": "flux", "type": "quantitative", "scale": {"domain": [0, 1.4], "range": [93, -52], "nice": false, "zero": false}, "axis": null},
        "text": {"field": "text"}
      }
    },
    {
      "data": {"name": "insetLegend"},
      "mark": {"type": "text", "font": "Lato", "fontSize": 10.5, "align": "left", "baseline": "middle"},
      "encoding": {
        "x": {"field": "angstrom", "type": "quantitative", "scale": {"domain": [4000, 9000], "range": [103, 315], "nice": false, "zero": false}, "axis": null},
        "y": {"field": "flux", "type": "quantitative", "scale": {"domain": [0, 1.4], "range": [93, -52], "nice": false, "zero": false}, "axis": null},
        "text": {"field": "text"},
        "color": {"field": "series", "type": "nominal", "scale": {"domain": ["model", "observation"], "range": ["#3e5db0", "#ee2f3f"]}, "legend": null}
      }
    },
    {
      "data": {"name": "zoomBox"},
      "mark": {"type": "rect", "filled": false, "color": "black", "strokeWidth": 1.2},
      "encoding": {
        "x": {"field": "w1", "type": "quantitative", "scale": {"type": "log", "domain": [0.3, 30], "nice": false}, "axis": null},
        "x2": {"field": "w2"},
        "y": {"field": "f1", "type": "quantitative", "scale": {"type": "log", "domain": [0.0368, 1710], "nice": false}, "axis": null},
        "y2": {"field": "f2"}
      }
    },
    {
      "data": {"name": "connectors"},
      "mark": {"type": "rule", "color": "black", "strokeWidth": 1},
      "encoding": {
        "x": {"field": "w1", "type": "quantitative", "scale": {"type": "log", "domain": [0.3, 30], "nice": false}, "axis": null},
        "x2": {"field": "w2"},
        "y": {"field": "f1", "type": "quantitative", "scale": {"type": "log", "domain": [0.0368, 1710], "nice": false}, "axis": null},
        "y2": {"field": "f2"}
      }
    }
  ]
}
